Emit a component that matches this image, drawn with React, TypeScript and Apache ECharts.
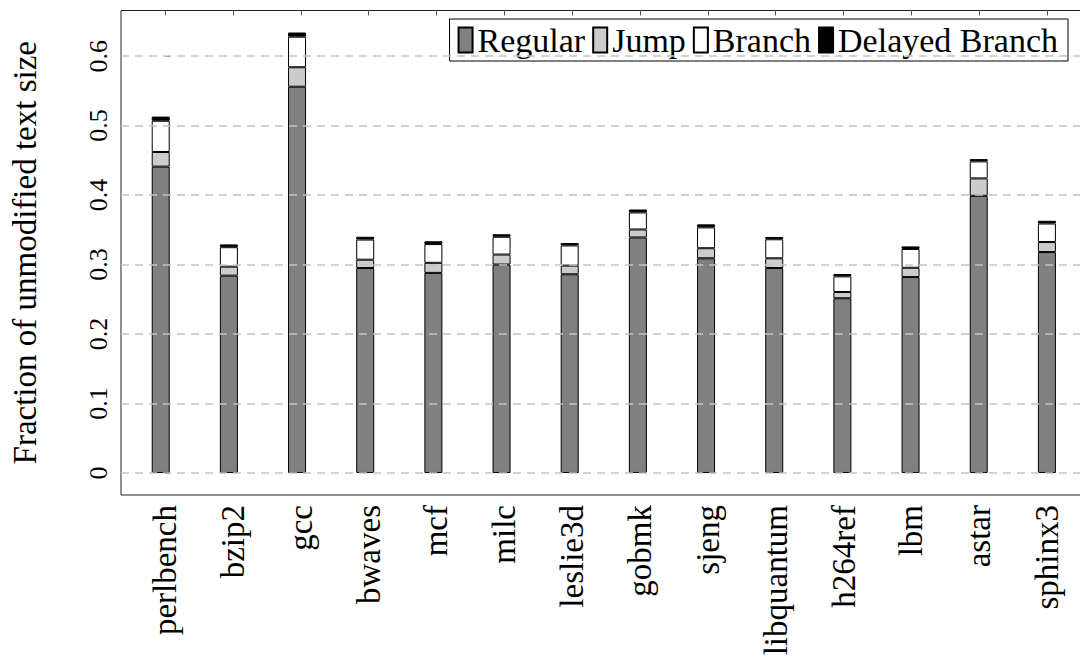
import React, { useEffect, useRef } from "react";
import * as echarts from "echarts";

// Benchmarks along the x axis
const categories = [
  "perlbench", "bzip2", "gcc", "bwaves", "mcf", "milc", "leslie3d",
  "gobmk", "sjeng", "libquantum", "h264ref", "lbm", "astar", "sphinx3",
];

// Stacked components (fraction of unmodified text size)
const regular = [0.441, 0.284, 0.556, 0.295, 0.288, 0.300, 0.286, 0.339, 0.309, 0.295, 0.2515, 0.282, 0.399, 0.318];
const jump = [0.021, 0.013, 0.028, 0.012, 0.0145, 0.0144, 0.0125, 0.0115, 0.0145, 0.014, 0.009, 0.0134, 0.025, 0.0144];
const branch = [0.045, 0.028, 0.044, 0.029, 0.027, 0.0256, 0.029, 0.0245, 0.030, 0.0274, 0.0225, 0.027, 0.0245, 0.0267];
const delayed = [0.006, 0.004, 0.006, 0.004, 0.004, 0.0036, 0.0034, 0.0043, 0.0044, 0.0033, 0.0034, 0.0037, 0.0033, 0.0039];

const yTicks = [0, 0.1, 0.2, 0.3, 0.4, 0.5, 0.6];
const yTickLabels = ["0", "0.1", "0.2", "0.3", "0.4", "0.5", "0.6"];

const FONT = "Liberation Serif";

// Plot frame in pixels (chart canvas is slightly wider than the visible page)
const FRAME_LEFT = 116.4;
const FRAME_RIGHT = 1091.2;
const FRAME_TOP = 10.5;
const FRAME_BOTTOM = 495;
const CHART_W = 1100;
const CHART_H = 666;

export default function App() {
  const ref = useRef<HTMLDivElement>(null);

  useEffect(() => {
    if (!ref.current) return;
    const chart = echarts.init(ref.current, undefined, { renderer: "svg" });

    // 5% padding on both axes, like pgfplots' enlarged limits
    const totals = categories.map((_, i) => regular[i] + jump[i] + branch[i] + delayed[i]);
    const maxTotal = Math.max(...totals);
    const yMin = -0.05 * maxTotal;
    const yMax = maxTotal * 1.05;
    const n = categories.length;
    const xPad = 0.05 * (n - 1);
    const xTicks = categories.map((_, i) => i);

    // the bar grid is inset so that category centres fall on the frame's integer ticks
    const unit = (FRAME_RIGHT - FRAME_LEFT) / (n - 1 + 2 * xPad);
    const inset = (xPad - 0.5) * unit;

    const tickStyle = { color: "#555", width: 1 };

    const mk = (name: string, vals: number[], color: string) => ({
      name,
      type: "bar",
      stack: "total",
      xAxisIndex: 2,
      yAxisIndex: 1,
      barWidth: 18,
      z: 3,
      data: vals,
      itemStyle: { color, borderColor: "#000", borderWidth: 1 },
    });

    chart.setOption({
      animation: false,
      backgroundColor: "#fff",
      textStyle: { fontFamily: FONT, color: "#000" },
      grid: [
        {
          left: FRAME_LEFT,
          top: FRAME_TOP,
          right: CHART_W - FRAME_RIGHT,
          bottom: CHART_H - FRAME_BOTTOM,
          show: true,
          borderColor: "#222",
          borderWidth: 1,
          backgroundColor: "transparent",
        },
        {
          left: FRAME_LEFT + inset,
          top: FRAME_TOP,
          right: CHART_W - FRAME_RIGHT + inset,
          bottom: CHART_H - FRAME_BOTTOM,
        },
      ],
      legend: {
        data: ["Regular", "Jump", "Branch", "Delayed Branch"],
        right: CHART_W - 1068,
        top: 19,
        icon: "rect",
        itemWidth: 14,
        itemHeight: 25,
        itemGap: 7,
        padding: [4, 10, 4, 8],
        borderColor: "#000",
        borderWidth: 1,
        backgroundColor: "#fff",
        selectedMode: false,
        textStyle: { fontFamily: FONT, fontSize: 34, color: "#000", lineHeight: 34 },
      },
      xAxis: [
        {
          type: "value",
          gridIndex: 0,
          min: -xPad,
          max: n - 1 + xPad,
          axisLine: { show: false },
          splitLine: { show: false },
          axisTick: { show: true, inside: true, length: 5, customValues: xTicks, lineStyle: tickStyle },
          axisLabel: {
            customValues: xTicks,
            rotate: 90,
            margin: 10,
            fontFamily: FONT,
            fontSize: 33,
            color: "#000",
            formatter: (v: number) => categories[Math.round(v)] ?? "",
          },
        },
        {
          type: "value",
          gridIndex: 0,
          position: "top",
          min: -xPad,
          max: n - 1 + xPad,
          axisLine: { show: false },
          splitLine: { show: false },
          axisLabel: { show: false },
          axisTick: { show: true, inside: true, length: 5, customValues: xTicks, lineStyle: tickStyle },
        },
        {
          type: "category",
          gridIndex: 1,
          data: categories,
          show: false,
        },
      ],
      yAxis: [
        {
          type: "value",
          gridIndex: 0,
          min: yMin,
          max: yMax,
          name: "Fraction of unmodified text size",
          nameLocation: "middle",
          nameGap: 80,
          nameRotate: 90,
          nameTextStyle: { fontFamily: FONT, fontSize: 33, color: "#000" },
          axisLine: { show: false },
          splitLine: { show: false },
          axisTick: { show: true, inside: true, length: 5, customValues: yTicks, lineStyle: tickStyle },
          axisLabel: {
            customValues: yTicks,
            rotate: 90,
            margin: 10,
            fontFamily: FONT,
            fontSize: 26,
            color: "#000",
            formatter: (v: number) =>
              yTickLabels[yTicks.findIndex((t) => Math.abs(t - v) < 1e-9)] ?? "",
          },
        },
        {
          type: "value",
          gridIndex: 1,
          min: yMin,
          max: yMax,
          show: false,
          splitLine: { show: false },
        },
      ],
      series: [
        {
          name: "grid",
          type: "line",
          xAxisIndex: 0,
          yAxisIndex: 0,
          data: [],
          z: 1,
          silent: true,
          markLine: {
            silent: true,
            symbol: "none",
            label: { show: false },
            lineStyle: { color: "#c4c4c4", type: [8, 6], width: 1.5 },
            data: yTicks.map((t) => ({ yAxis: t })),
          },
        },
        mk("Regular", regular, "#808080"),
        mk("Jump", jump, "#cccccc"),
        mk("Branch", branch, "#ffffff"),
        mk("Delayed Branch", delayed, "#000000"),
      ],
    });

    return () => chart.dispose();
  }, []);

  return (
    <div
      style={{
        position: "fixed",
        left: 0,
        top: 0,
        width: 1080,
        height: 666,
        overflow: "hidden",
        background: "#fff",
      }}
    >
      <div ref={ref} style={{ width: CHART_W, height: CHART_H }} />
    </div>
  );
}
